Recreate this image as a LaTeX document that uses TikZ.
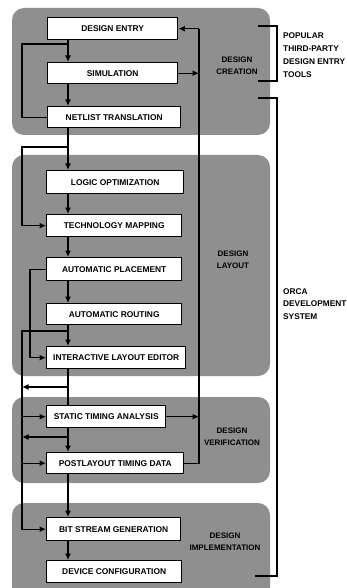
\documentclass[tikz,border=0pt]{standalone}
\usepackage{fontspec}
\setmainfont{Liberation Sans}
\usetikzlibrary{arrows.meta}
\definecolor{panelgray}{gray}{0.56}
\tikzset{
  panel/.style={fill=panelgray, draw=none, rounded corners=12pt},
  stepbox/.style={draw=black, fill=white, line width=1.4pt, inner sep=0pt,
    font=\fontsize{8.4}{10}\selectfont\bfseries},
  conn/.style={line width=1.2pt},
  arr/.style={conn, -{Latex[length=6.5pt,width=6pt]}},
  grouplabel/.style={align=center, inner sep=0pt, font=\fontsize{8}{12}\selectfont\bfseries},
  sidelabel/.style={align=left, anchor=west, inner sep=0pt, font=\fontsize{8.3}{12.8}\selectfont\bfseries},
  bracket/.style={line width=1.2pt}
}
\newcommand{\boxat}[6]{% name, x1, y1, x2, y2, text
  \node[stepbox, anchor=north west, minimum width=#4pt-#2pt, minimum height=#5pt-#3pt]
    (#1) at (#2,#3) {#6};}
\begin{document}
\begin{tikzpicture}[x=1pt, y=-1pt]
\useasboundingbox (0,0) rectangle (347,588);
% panels
\fill[panel] (12,8) rectangle (270,135);
\fill[panel] (12,155) rectangle (270,376);
\fill[panel] (12,397) rectangle (270,483);
\fill[panel] (12,503) rectangle (270,600);
% boxes
\boxat{de}{47}{17}{177}{39}{DESIGN ENTRY}
\boxat{sim}{47}{62}{177}{83}{SIMULATION}
\boxat{net}{47}{106}{180}{127}{NETLIST TRANSLATION}
\boxat{lo}{46}{170}{183}{193}{LOGIC OPTIMIZATION}
\boxat{tm}{46}{214}{181}{236}{TECHNOLOGY MAPPING}
\boxat{ap}{46}{257}{181}{280}{AUTOMATIC PLACEMENT}
\boxat{ar}{46}{303}{181}{324}{AUTOMATIC ROUTING}
\boxat{ile}{46}{346}{185}{368}{INTERACTIVE LAYOUT EDITOR}
\boxat{sta}{46}{405}{165}{427}{STATIC TIMING ANALYSIS}
\boxat{ptd}{46}{452}{183}{473}{POSTLAYOUT TIMING DATA}
\boxat{bsg}{46}{517}{180}{540}{BIT STREAM GENERATION}
\boxat{dc}{46}{560}{181}{582}{DEVICE CONFIGURATION}
% helper coordinates
\coordinate (sp) at (68,0);
\coordinate (lx) at (22,0);
\coordinate (mx) at (30,0);
\coordinate (rx) at (199,0);
\coordinate (j1) at (68,44);
\coordinate (j2) at (68,147);
\coordinate (j3) at (68,331);
\coordinate (j4) at (68,387);
\coordinate (j5) at (68,437);
% main spine
\draw[arr] (de.south -| sp) -- (sim.north -| sp);
\draw[arr] (sim.south -| sp) -- (net.north -| sp);
\draw[arr] (net.south -| sp) -- (lo.north -| sp);
\draw[arr] (lo.south -| sp) -- (tm.north -| sp);
\draw[arr] (tm.south -| sp) -- (ap.north -| sp);
\draw[arr] (ap.south -| sp) -- (ar.north -| sp);
\draw[arr] (ar.south -| sp) -- (ile.north -| sp);
\draw[conn] (ile.south -| sp) -- (sta.north -| sp);
\draw[arr] (sta.south -| sp) -- (ptd.north -| sp);
\draw[arr] (ptd.south -| sp) -- (bsg.north -| sp);
\draw[arr] (bsg.south -| sp) -- (dc.north -| sp);
% left loops
\draw[conn] (net.west) -- (net.west -| lx) -- (lx |- j1) -- (j1);
\draw[arr] (j2) -- (j2 -| lx) -- (lx |- tm.west) -- (tm.west);
\draw[arr] (ap.west) -- (ap.west -| mx) -- (mx |- ile.west) -- (ile.west);
\draw[arr] (j3) -- (j3 -| lx) -- (lx |- bsg.west) -- (bsg.west);
\draw[arr] (j4) -- (j4 -| lx);
\draw[arr] (lx |- sta.west) -- (sta.west);
\draw[arr] (j5) -- (j5 -| lx);
\draw[arr] (lx |- ptd.west) -- (ptd.west);
% right feedback line
\draw[arr] (rx |- de.east) -- (de.east);
\draw[arr] (sim.east) -- (sim.east -| rx);
\draw[arr] (sta.east) -- (sta.east -| rx);
\draw[conn] (ptd.east) -- (ptd.east -| rx) -- (rx |- de.east);
% group labels
\node[grouplabel] (lc) at (237,65.5) {DESIGN\\CREATION};
\node[grouplabel] (ll) at (233,260) {DESIGN\\LAYOUT};
\node[grouplabel] (lv) at (232,437) {DESIGN\\VERIFICATION};
\node[grouplabel] (lim) at (225,541.5) {DESIGN\\IMPLEMENTATION};
% brackets
\coordinate (b1a) at (258,26);
\coordinate (b1b) at (277,26);
\coordinate (b1c) at (277,81);
\coordinate (b1d) at (258,81);
\draw[bracket] (b1a) -- (b1b) -- (b1c) -- (b1d);
\coordinate (b2a) at (258,98);
\coordinate (b2b) at (277,98);
\coordinate (b2c) at (277,576);
\coordinate (b2d) at (255,576);
\draw[bracket] (b2a) -- (b2b) -- (b2c) -- (b2d);
\node[sidelabel] (t1) at (283,55) {POPULAR\\THIRD-PARTY\\DESIGN ENTRY\\TOOLS};
\node[sidelabel] (t2) at (283,304) {ORCA\\DEVELOPMENT\\SYSTEM};
\end{tikzpicture}
\end{document}
